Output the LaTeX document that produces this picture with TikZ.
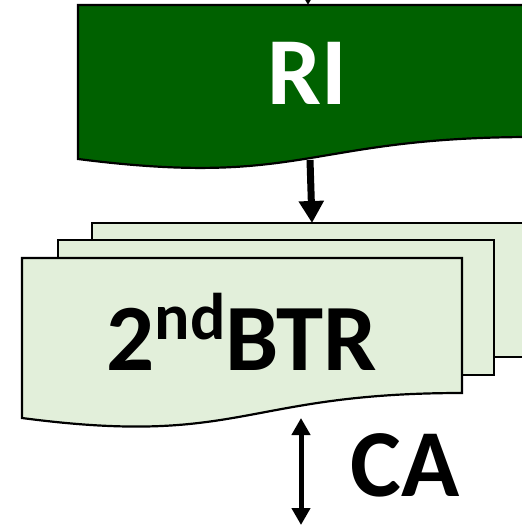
\documentclass[tikz,border=0pt]{standalone}
\usepackage{fontspec}
\setmainfont{Carlito}
\usetikzlibrary{arrows.meta}
\definecolor{rigreen}{HTML}{006100}
\definecolor{btrgreen}{HTML}{E2EFDA}

\begin{document}
\begin{tikzpicture}[x=1pt, y=-1pt,
                    sheet/.style={draw=black, line width=2.2pt, fill=btrgreen},
                    doclabel/.style={anchor=base, inner sep=0pt, font=\bfseries\fontsize{96}{96}\selectfont},
                    flow/.style={line width=7pt, -{Triangle[length=22pt, width=24pt]}},
                    gap/.style={line width=5pt, {Triangle[length=17pt, width=18pt]}-{Triangle[length=17pt, width=18pt]}}]
    \useasboundingbox (0,0) rectangle (522,525);
    \clip (0,0) rectangle (522,525);

    % RI block
    \draw [sheet, fill=rigreen] (78,5) -- (533,5) -- (533,137) .. controls (305,137) and (305,188) .. (78,159) -- cycle;
    \node [doclabel, text=white] (ri) at (307,104) {RI};

    % stacked 2nd BTR sheets
    \draw [sheet] (92,223) rectangle (533,357);
    \draw [sheet] (58,240) rectangle (494,375);
    \draw [sheet] (22,258) -- (462,258) -- (462,393) .. controls (242,393) and (242,447) .. (22,418) -- cycle;
    \node [doclabel, font=\bfseries\fontsize{95}{95}\selectfont] (btr) at (242,370)
          {2\raisebox{31pt}{\fontsize{66}{66}\selectfont nd}BTR};
    \node [doclabel] (ca) at (405,496) {CA};

    \coordinate (in) at (308,-40);
    \coordinate (ri top) at (308,5);
    \coordinate (ri bot) at (310,160);
    \coordinate (btr top) at (312,223);
    \coordinate (btr bot) at (301,418);
    \coordinate (out) at (301,525);

    \draw [flow] (in) -- (ri top);
    \draw [flow] (ri bot) -- (btr top);
    \draw [gap] (btr bot) -- (out);
\end{tikzpicture}
\end{document}
